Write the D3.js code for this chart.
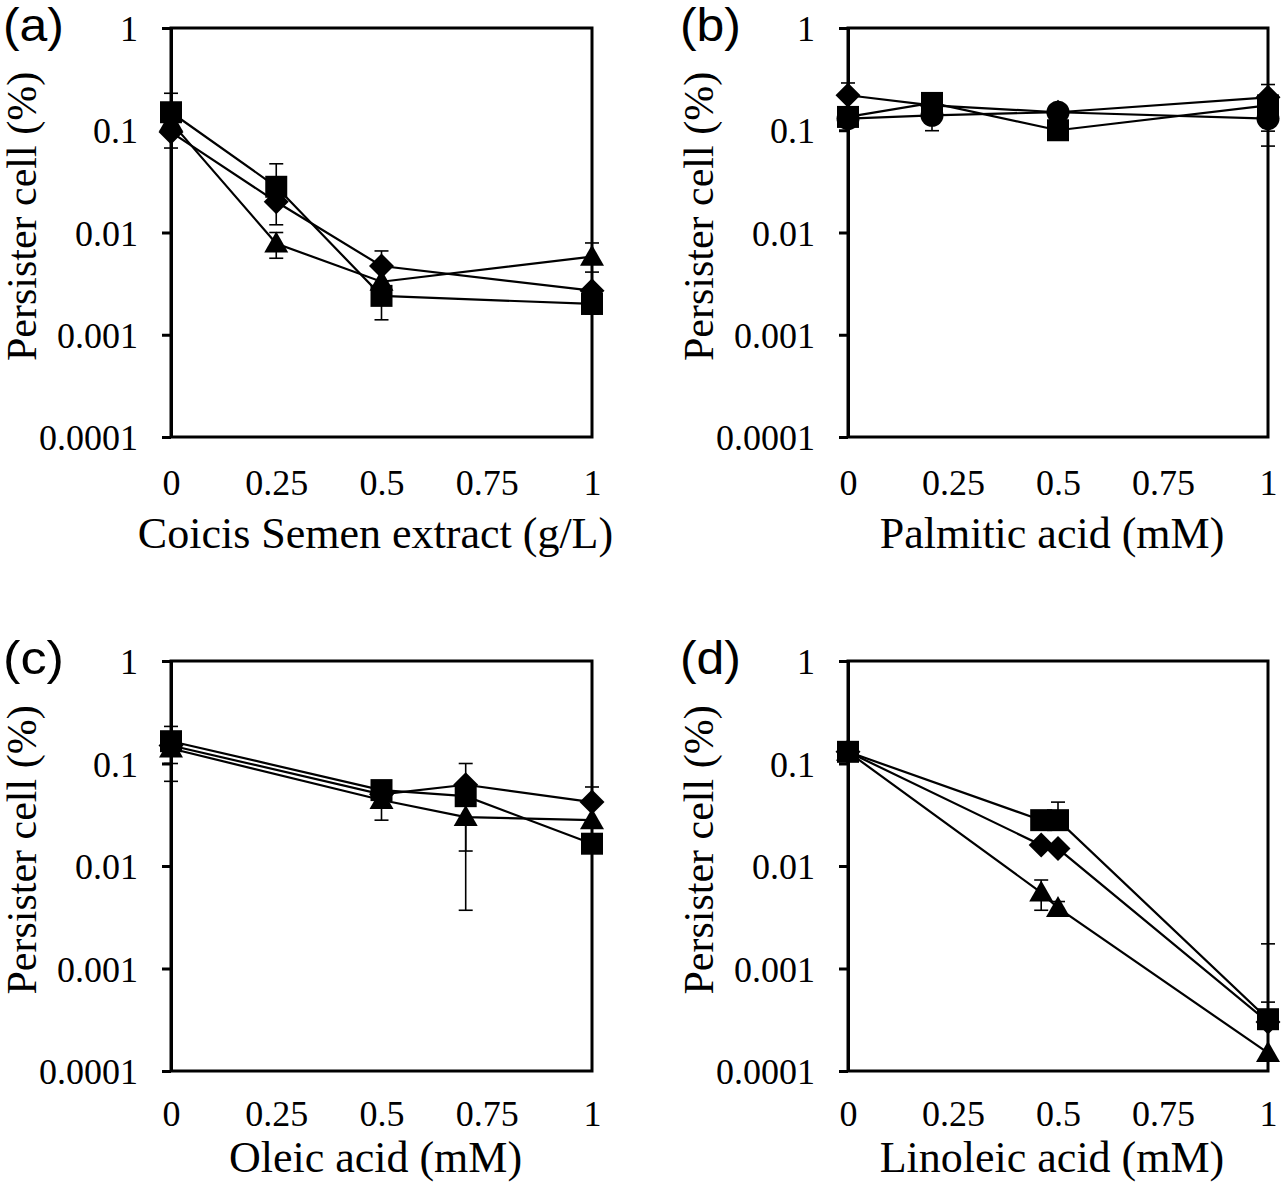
<!DOCTYPE html>
<html><head><meta charset="utf-8">
<script src="https://cdnjs.cloudflare.com/ajax/libs/d3/7.8.5/d3.min.js"></script>
<style>body{margin:0;background:#fff}svg{display:block}</style>
</head><body>
<script>
// ---------- data ----------
const yTickValues = [1, 0.1, 0.01, 0.001, 0.0001];
const yTickLabels = ["1", "0.1", "0.01", "0.001", "0.0001"];
const xTickValues = [0, 0.25, 0.5, 0.75, 1];
const xTickLabels = ["0", "0.25", "0.5", "0.75", "1"];
const panelLabels = ["(a)", "(b)", "(c)", "(d)"];
const xTitles = ["Coicis Semen extract (g/L)", "Palmitic acid (mM)", "Oleic acid (mM)", "Linoleic acid (mM)"];
const yTitle = "Persister cell (%)";

// panel (a)
const xA = [0, 0.25, 0.5, 1];
const aSquare   = [0.15, 0.028, 0.0024, 0.002];
const aDiamond  = [0.096, 0.02, 0.0047, 0.0027];
const aTriangle = [0.12, 0.0078, 0.0033, 0.0058];
const aSquareErr   = [[null, 0.23], [null, 0.047], [0.0014, null], [0.0016, null]];
const aDiamondErr  = [[0.067, null], [0.0119, null], [null, 0.0066], [null, 0.0041]];
const aTriangleErr = [[null, null], [0.0056, 0.01], [null, null], [null, 0.0079]];

// panel (b)
const xB = [0, 0.2, 0.5, 1];
const bDiamond = [0.22, 0.175, 0.15, 0.21];
const bSquare  = [0.135, 0.185, 0.1, 0.175];
const bCircle  = [0.13, 0.14, 0.15, 0.13];
const bDiamondErr = [[null, 0.29], [null, null], [null, null], [null, 0.28]];
const bSquareErr  = [[null, null], [null, null], [null, null], [0.07, null]];
const bCircleErr  = [[null, null], [0.099, null], [null, null], [0.098, null]];

// panel (c)
const xC = [0, 0.5, 0.7, 1];
const cSquare   = [0.165, 0.055, 0.048, 0.0165];
const cDiamond  = [0.15, 0.05, 0.062, 0.042];
const cTriangle = [0.14, 0.044, 0.03, 0.028];
const cSquareErr   = [[0.1, 0.23], [null, null], [0.0037, 0.1], [null, null]];
const cDiamondErr  = [[0.067, null], [null, null], [null, null], [null, 0.059]];
const cTriangleErr = [[null, null], [0.028, null], [0.014, null], [null, null]];

// panel (d)
const xD = [0, 0.46, 0.5, 1];
const dSquare   = [0.13, 0.028, 0.028, 0.00032];
const dDiamond  = [0.13, 0.016, 0.0148, 0.0003];
const dTriangle = [0.13, 0.0055, 0.0039, 0.00015];
const dSquareErr   = [[null, null], [null, null], [null, 0.042], [null, 0.00174]];
const dDiamondErr  = [[null, null], [null, null], [null, null], [null, null]];
const dTriangleErr = [[null, null], [0.0037, 0.0073], [null, 0.0045], [null, 0.00047]];

// ---------- layout ----------
const W = 1285, H = 1183;
const panels = [
  {left: 171, right: 592, top: 28, bottom: 437, x: xA, titleDy: 111, tickPad: 32,
   series: [{shape: "triangle", v: aTriangle, e: aTriangleErr}, {shape: "diamond", v: aDiamond, e: aDiamondErr}, {shape: "square", v: aSquare, e: aSquareErr}]},
  {left: 848, right: 1268, top: 28, bottom: 437, x: xB, titleDy: 111, tickPad: 32,
   series: [{shape: "circle", v: bCircle, e: bCircleErr}, {shape: "diamond", v: bDiamond, e: bDiamondErr}, {shape: "square", v: bSquare, e: bSquareErr}]},
  {left: 171, right: 592, top: 661, bottom: 1071, x: xC, titleDy: 101, tickPad: 29,
   series: [{shape: "triangle", v: cTriangle, e: cTriangleErr}, {shape: "diamond", v: cDiamond, e: cDiamondErr}, {shape: "square", v: cSquare, e: cSquareErr}]},
  {left: 848, right: 1268, top: 661, bottom: 1071, x: xD, titleDy: 101, tickPad: 29,
   series: [{shape: "triangle", v: dTriangle, e: dTriangleErr}, {shape: "diamond", v: dDiamond, e: dDiamondErr}, {shape: "square", v: dSquare, e: dSquareErr}]}
];

const svg = d3.select("body").append("svg").attr("width", W).attr("height", H);
const serif = "'Liberation Serif','Times New Roman',serif";

function shapePath(shape) {
  const p = d3.path();
  if (shape === "square") { p.rect(-11, -11, 22, 22); }
  else if (shape === "diamond") { p.moveTo(0, -12.5); p.lineTo(12.5, 0); p.lineTo(0, 12.5); p.lineTo(-12.5, 0); p.closePath(); }
  else if (shape === "triangle") { p.moveTo(0, -12); p.lineTo(12, 9); p.lineTo(-12, 9); p.closePath(); }
  else { p.arc(0, 0, 11.5, 0, 2 * Math.PI); }
  return p.toString();
}

panels.forEach((P, i) => {
  const g = svg.append("g");
  const x = d3.scaleLinear().domain([0, 1]).range([P.left, P.right]);
  const y = d3.scaleLog().domain([1e-4, 1]).range([P.bottom, P.top]);

  // frame
  g.append("rect").attr("x", P.left).attr("y", P.top)
    .attr("width", P.right - P.left).attr("height", P.bottom - P.top)
    .attr("fill", "none").attr("stroke", "#000").attr("stroke-width", 3);

  // y axis
  const ya = d3.axisLeft(y).tickValues(yTickValues)
    .tickFormat((d, k) => yTickLabels[k]).tickSize(9).tickPadding(24).tickSizeOuter(0);
  const yg = g.append("g").attr("transform", `translate(${P.left},0)`).call(ya);
  yg.select(".domain").attr("stroke-width", 3);
  yg.selectAll(".tick line").attr("stroke-width", 3);
  yg.selectAll("text").attr("font-family", serif).attr("font-size", 36).attr("fill", "#000").attr("dy", "0.35em");

  // x axis (labels only)
  const xa = d3.axisBottom(x).tickValues(xTickValues)
    .tickFormat((d, k) => xTickLabels[k]).tickSize(0).tickPadding(P.tickPad).tickSizeOuter(0);
  const xg = g.append("g").attr("transform", `translate(0,${P.bottom})`).call(xa);
  xg.select(".domain").remove();
  xg.selectAll("text").attr("font-family", serif).attr("font-size", 36).attr("fill", "#000");

  // titles
  g.append("text").attr("x", (P.left + P.right) / 2 - 6).attr("y", P.bottom + P.titleDy)
    .attr("text-anchor", "middle").attr("font-family", serif).attr("font-size", 44)
    .text(xTitles[i]);
  g.append("text").attr("transform", `translate(${P.left - 135},${(P.top + P.bottom) / 2 - 16}) rotate(-90)`)
    .attr("text-anchor", "middle").attr("font-family", serif).attr("font-size", 42)
    .text(yTitle);
  g.append("text").attr("x", P.left - 168).attr("y", P.top + 13)
    .attr("font-family", "'Liberation Sans',Arial,sans-serif").attr("font-size", 46)
    .attr("textLength", 61).attr("lengthAdjust", "spacingAndGlyphs")
    .text(panelLabels[i]);

  // error bars
  P.series.forEach(s => {
    s.e.forEach((pair, k) => {
      const cx = x(P.x[k]);
      [0, 1].forEach(j => {
        const ev = pair[j];
        if (ev == null) return;
        g.append("line").attr("x1", cx).attr("x2", cx).attr("y1", y(s.v[k])).attr("y2", y(ev))
          .attr("stroke", "#000").attr("stroke-width", 1.6);
        g.append("line").attr("x1", cx - 7).attr("x2", cx + 7).attr("y1", y(ev)).attr("y2", y(ev))
          .attr("stroke", "#000").attr("stroke-width", 1.6);
      });
    });
  });

  // lines
  const line = d3.line().x((d, k) => x(P.x[k])).y(d => y(d));
  P.series.forEach(s => {
    g.append("path").attr("d", line(s.v)).attr("fill", "none")
      .attr("stroke", "#000").attr("stroke-width", 2.2);
  });
  // markers
  P.series.forEach(s => {
    g.selectAll(null).data(s.v).enter().append("path")
      .attr("d", shapePath(s.shape))
      .attr("transform", (d, k) => `translate(${x(P.x[k])},${y(d)})`)
      .attr("fill", "#000");
  });
});
</script>
</body></html>
